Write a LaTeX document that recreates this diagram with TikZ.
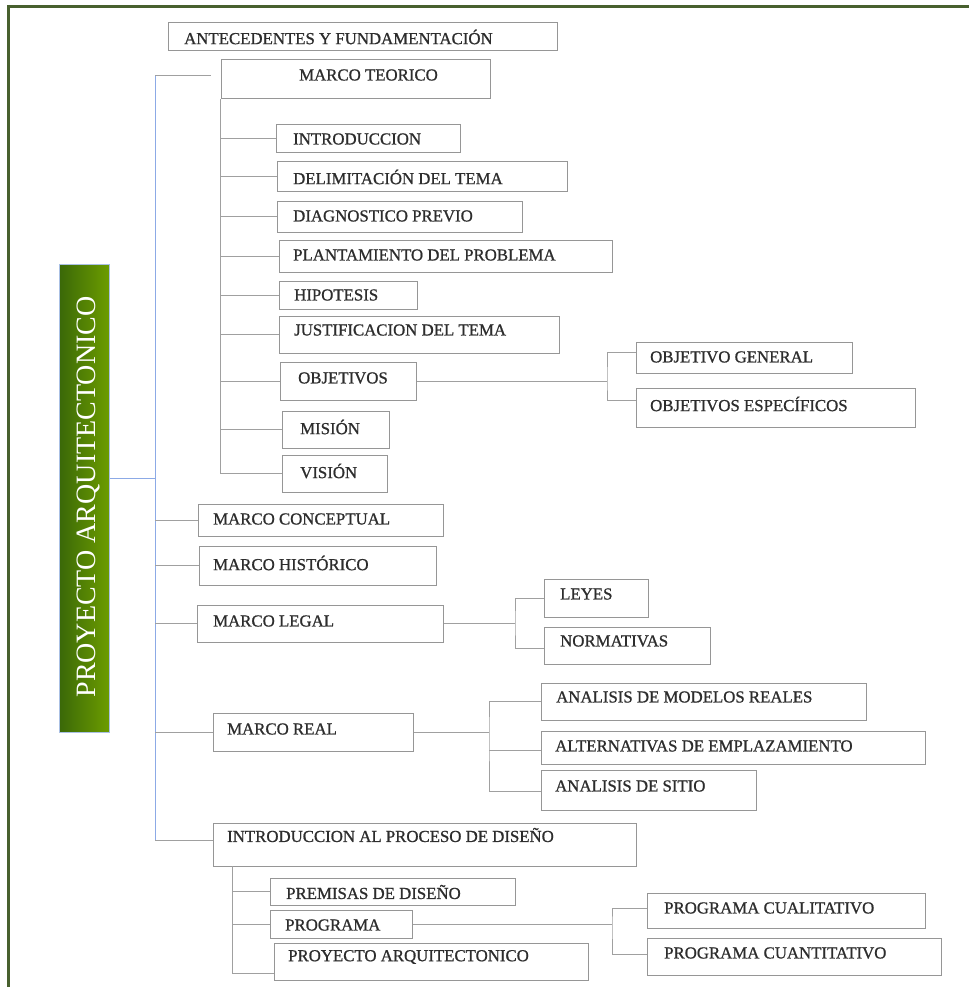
\documentclass[tikz,border=0pt]{standalone}
\usepackage{fontspec}
\setmainfont{Liberation Serif}
\newfontfamily\heavyserif[FakeBold=0.9]{Liberation Serif}
\usetikzlibrary{fit}

\definecolor{framegreen}{RGB}{72,96,46}
\definecolor{gdark}{RGB}{58,104,8}
\definecolor{glight}{RGB}{108,156,0}
\definecolor{gborder}{RGB}{170,192,228}
\definecolor{boxgray}{RGB}{150,150,150}
\definecolor{linegray}{RGB}{160,160,160}
\definecolor{trunkblue}{RGB}{140,170,230}
\definecolor{txt}{RGB}{45,45,45}

\newcommand{\lblfont}{\heavyserif\fontsize{16.8}{18}\selectfont}

\tikzset{
  box/.style={draw=boxgray, line width=1pt, inner sep=0pt, rectangle},
  lbl/.style={anchor=west, inner sep=0pt, font=\lblfont, text=txt},
  link/.style={draw=linegray, line width=1pt},
  trunk/.style={draw=trunkblue, line width=1pt},
}

\begin{document}
\begin{tikzpicture}[x=1pt,y=-1pt]
\useasboundingbox (0,0) rectangle (969,987);
\fill[white] (0,0) rectangle (969,987);

% frame lines
\draw[framegreen, line width=2.6pt] (7.4,6.3) -- (969,6.3);
\draw[framegreen, line width=2.6pt] (8.7,5) -- (8.7,987);

% main title bar
\node[fit={(59,264) (109,732)}, inner sep=0pt, draw=gborder, line width=1pt,
      left color=gdark, right color=glight] (pa) {};
\node[rotate=90, text=white, inner sep=0pt, font=\fontsize{28}{30}\selectfont]
      (pa-t) at (88,497) {PROYECTO ARQUITECTONICO};

% boxes
\node[box, fit={(168,23) (557,51)}] (ant) {};
\node[box, fit={(221,60) (490,99)}] (mt) {};
\node[box, fit={(276,125) (460,153)}] (intro) {};
\node[box, fit={(277,162) (567,192)}] (delim) {};
\node[box, fit={(277,201) (522,232)}] (diag) {};
\node[box, fit={(279,240) (612,272)}] (plant) {};
\node[box, fit={(279,281) (417,309)}] (hipo) {};
\node[box, fit={(279,316) (559,353)}] (just) {};
\node[box, fit={(280,362) (416,400)}] (obj) {};
\node[box, fit={(636,342) (852,373)}] (og) {};
\node[box, fit={(636,388) (915,427)}] (oe) {};
\node[box, fit={(282,411) (389,448)}] (mis) {};
\node[box, fit={(282,455) (387,492)}] (vis) {};
\node[box, fit={(198,504) (443,536)}] (mc) {};
\node[box, fit={(199,546) (436,585)}] (mh) {};
\node[box, fit={(197,605) (443,642)}] (ml) {};
\node[box, fit={(544,579) (648,617)}] (ley) {};
\node[box, fit={(544,627) (710,664)}] (nor) {};
\node[box, fit={(213,713) (413,751)}] (mr) {};
\node[box, fit={(541,683) (866,720)}] (amr) {};
\node[box, fit={(541,731) (925,764)}] (alt) {};
\node[box, fit={(541,770) (756,810)}] (sit) {};
\node[box, fit={(213,823) (636,866)}] (ip) {};
\node[box, fit={(270,878) (515,905)}] (pre) {};
\node[box, fit={(270,910) (412,938)}] (prog) {};
\node[box, fit={(274,943) (588,980)}] (parq) {};
\node[box, fit={(647,893) (925,928)}] (cual) {};
\node[box, fit={(647,938) (941,975)}] (cuan) {};

% labels
\node[lbl] (ant-t) at (184,37) {ANTECEDENTES Y FUNDAMENTACIÓN};
\node[lbl] (mt-t) at (299,75) {MARCO TEORICO};
\node[lbl] (intro-t) at (293,139) {INTRODUCCION};
\node[lbl] (delim-t) at (293,177) {DELIMITACIÓN DEL TEMA};
\node[lbl] (diag-t) at (293,216) {DIAGNOSTICO PREVIO};
\node[lbl] (plant-t) at (293,255) {PLANTAMIENTO DEL PROBLEMA};
\node[lbl] (hipo-t) at (294,295) {HIPOTESIS};
\node[lbl] (just-t) at (294,330) {JUSTIFICACION DEL TEMA};
\node[lbl] (obj-t) at (298,378) {OBJETIVOS};
\node[lbl] (og-t) at (650,357) {OBJETIVO GENERAL};
\node[lbl] (oe-t) at (650,404) {OBJETIVOS ESPECÍFICOS};
\node[lbl] (mis-t) at (300,427) {MISIÓN};
\node[lbl] (vis-t) at (300,471) {VISIÓN};
\node[lbl] (mc-t) at (213,519) {MARCO CONCEPTUAL};
\node[lbl] (mh-t) at (213,563) {MARCO HISTÓRICO};
\node[lbl] (ml-t) at (213,621) {MARCO LEGAL};
\node[lbl] (ley-t) at (560,594) {LEYES};
\node[lbl] (nor-t) at (560,641) {NORMATIVAS};
\node[lbl] (mr-t) at (227,729) {MARCO REAL};
\node[lbl] (amr-t) at (556,697) {ANALISIS DE MODELOS REALES};
\node[lbl] (alt-t) at (555,746) {ALTERNATIVAS DE EMPLAZAMIENTO};
\node[lbl] (sit-t) at (555,786) {ANALISIS DE SITIO};
\node[lbl] (ip-t) at (227,835) {INTRODUCCION AL PROCESO DE DISEÑO};
\node[lbl] (pre-t) at (286,892) {PREMISAS DE DISEÑO};
\node[lbl] (prog-t) at (285,925) {PROGRAMA};
\node[lbl] (parq-t) at (288,957) {PROYECTO ARQUITECTONICO};
\node[lbl] (cual-t) at (664,908) {PROGRAMA CUALITATIVO};
\node[lbl] (cuan-t) at (664,953) {PROGRAMA CUANTITATIVO};

% main trunk
\coordinate (ttop) at (155,76);
\coordinate (tbot) at (155,840);
\coordinate (tmid) at (155,478);
\draw[trunk] (ttop) -- (tbot);
\draw[trunk] (pa.east |- tmid) -- (tmid);

% branches off the trunk
\draw[link, shorten >=10pt] (ttop) -- (ttop -| mt.west);
\draw[link] (mc.west -| ttop) -- (mc.west);
\draw[link] (mh.west -| ttop) -- (mh.west);
\draw[link] (ml.west -| ttop) -- (ml.west);
\draw[link] (mr.west -| ttop) -- (mr.west);
\draw[link] (tbot) -- (tbot -| ip.west);

% marco teorico children
\draw[link] (mt.south west) |- (vis.west);
\foreach \n in {intro,delim,diag,plant,hipo,just,obj,mis}
  \draw[link] (\n.west -| mt.south west) -- (\n.west);

% objetivos split
\coordinate (objj) at (607,381);
\draw[link] (obj.east) -- (objj);
\draw[link] ([yshift=5pt]og.west) -| (objj) |- ([yshift=7pt]oe.west);

% marco legal split
\coordinate (mlj) at (515,623);
\draw[link] (ml.east |- mlj) -- (mlj);
\draw[link] (ley.west) -| (mlj) |- ([yshift=-3pt]nor.west);

% marco real split
\coordinate (mrj) at (489,732);
\draw[link] (mr.east) -- (mrj);
\draw[link] (amr.west) -| (mrj) |- ([yshift=-1pt]sit.west);
\draw[link] ([yshift=-3pt]alt.west -| mrj) -- ([yshift=-3pt]alt.west);

% introduccion al proceso children
\coordinate (ipx) at (232,866);
\draw[link] (ipx) |- ([yshift=-11.5pt]parq.west);
\draw[link] (pre.west -| ipx) -- (pre.west);
\draw[link] (prog.west -| ipx) -- (prog.west);

% programa split
\coordinate (prj) at (612,924);
\draw[link] (prog.east) -- (prj);
\draw[link] ([yshift=2pt]cual.west) -| (prj) |- ([yshift=2pt]cuan.west);

\end{tikzpicture}
\end{document}
